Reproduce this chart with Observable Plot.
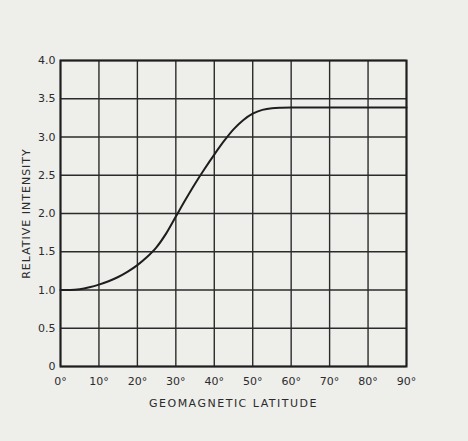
<!DOCTYPE html>
<html><head><meta charset="utf-8">
<script src="https://cdn.jsdelivr.net/npm/d3@7"></script>
<script src="https://cdn.jsdelivr.net/npm/@observablehq/plot@0.6"></script>
<style>
html,body{margin:0;padding:0;background:#eeeeeb;}
#chart svg{display:block;}
</style>
</head><body><div id="chart"></div>
<script>
const latitude  = [0, 2.5, 5, 7.5, 10, 12.5, 15, 17.5, 20, 22.5, 25, 27.5, 30, 32.5, 35, 37.5, 40, 42.5, 45, 47.5, 50, 52.5, 55, 57.5, 60, 70, 80, 90];
const intensity = [1.0, 1.0, 1.01, 1.035, 1.07, 1.115, 1.17, 1.24, 1.325, 1.43, 1.56, 1.74, 1.96, 2.18, 2.39, 2.585, 2.77, 2.945, 3.10, 3.22, 3.305, 3.355, 3.377, 3.383, 3.385, 3.385, 3.385, 3.385];
const xTicks = [0, 10, 20, 30, 40, 50, 60, 70, 80, 90];
const yTicks = [0, 0.5, 1.0, 1.5, 2.0, 2.5, 3.0, 3.5, 4.0];
const yTickLabels = ["0", "0.5", "1.0", "1.5", "2.0", "2.5", "3.0", "3.5", "4.0"];
const xTitle = "GEOMAGNETIC LATITUDE";
const yTitle = "RELATIVE INTENSITY";

const data = latitude.map((x, i) => ({x, y: intensity[i]}));
const ink = "#2b2b2b";

const chart = Plot.plot({
  width: 468, height: 441,
  marginLeft: 60, marginRight: 62, marginTop: 60, marginBottom: 75,
  style: {background: "transparent", fontFamily: "'DejaVu Sans', sans-serif", fontSize: "11px", color: ink},
  x: {domain: [0, 90]},
  y: {domain: [0, 4]},
  marks: [
    Plot.ruleX(xTicks, {stroke: ink, strokeWidth: 1.4}),
    Plot.ruleY(yTicks, {stroke: ink, strokeWidth: 1.4}),
    Plot.frame({stroke: "#1e1e1e", strokeWidth: 2}),
    Plot.line(data, {x: "x", y: "y", stroke: "#1e1e1e", strokeWidth: 2, curve: "monotone-x"}),
    Plot.axisX(xTicks, {tickSize: 0, tickPadding: 11, tickFormat: d => d + "°", fontSize: 11,
      label: xTitle, labelAnchor: "center", labelOffset: 40, labelArrow: "none"}),
    Plot.axisY(yTicks, {tickSize: 0, tickPadding: 5, tickFormat: d => yTickLabels[yTicks.indexOf(d)], fontSize: 11,
      label: yTitle, labelAnchor: "center", labelOffset: 38, labelArrow: "none"})
  ]
});
chart.querySelectorAll("g[aria-label='x-axis label'] text").forEach(t => t.setAttribute("letter-spacing", "1.5"));
chart.querySelectorAll("g[aria-label='y-axis label'] text").forEach(t => t.setAttribute("letter-spacing", "1"));
document.getElementById("chart").appendChild(chart);
</script>
</body></html>
